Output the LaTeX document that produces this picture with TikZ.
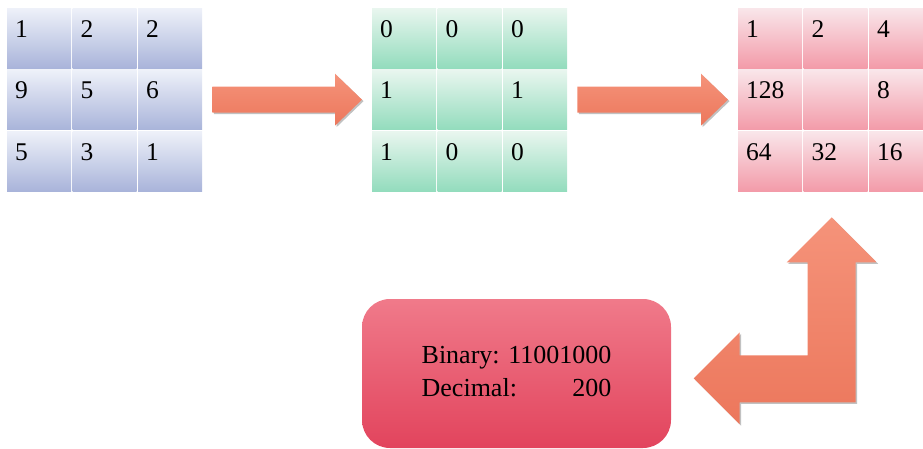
\documentclass[tikz,border=0pt]{standalone}
\usepackage{fontspec}
\setmainfont{Liberation Serif}
\usetikzlibrary{calc,shadows}
\definecolor{bluetop}{HTML}{EEF1F9}
\definecolor{bluebot}{HTML}{A9B4DA}
\definecolor{greentop}{HTML}{E9F6EF}
\definecolor{greenbot}{HTML}{93DCBD}
\definecolor{pinktop}{HTML}{F9E6EA}
\definecolor{pinkbot}{HTML}{F39BA9}
\definecolor{restop}{HTML}{F07A8A}
\definecolor{resmid}{HTML}{F0566F}
\definecolor{resbot}{HTML}{E2445D}
\definecolor{arrtop}{HTML}{F5937A}
\definecolor{arrbot}{HTML}{EC775C}
\tikzset{
  cell/.style={anchor=north west, inner xsep=8pt, inner ysep=0pt, text width=48pt,
    text height=29pt, text depth=31pt, align=left, font=\fontsize{25.5}{30}\selectfont},
  incell/.style={cell, top color=bluetop, bottom color=bluebot},
  bincell/.style={cell, top color=greentop, bottom color=greenbot},
  wtcell/.style={cell, top color=pinktop, bottom color=pinkbot},
  result/.style={rounded corners=28pt, minimum width=309pt, minimum height=149pt,
    top color=restop, middle color=resmid, bottom color=resbot, font=\fontsize{26}{33}\selectfont},
  blockarrow/.style={top color=arrtop, bottom color=arrbot,
    drop shadow={fill=black!70, opacity=.35, shadow xshift=1.5pt, shadow yshift=-1.5pt}}
}
\begin{document}
\begin{tikzpicture}[x=1pt,y=-1pt]
  \clip (0,0) rectangle (923,449);
  \foreach \a/\b/\c [count=\r] in {1/2/2, 9/5/6, 5/3/1} {
    \node[incell] (in\r1) at (7,{8+61.5*(\r-1)}) {\a};
    \node[incell] (in\r2) at (72.5,{8+61.5*(\r-1)}) {\b};
    \node[incell] (in\r3) at (138,{8+61.5*(\r-1)}) {\c};
  }
  \foreach \a/\b/\c [count=\r] in {0/0/0, 1/{}/1, 1/0/0} {
    \node[bincell] (bin\r1) at (372,{8+61.5*(\r-1)}) {\a};
    \node[bincell] (bin\r2) at (437.5,{8+61.5*(\r-1)}) {\b};
    \node[bincell] (bin\r3) at (503,{8+61.5*(\r-1)}) {\c};
  }
  \foreach \a/\b/\c [count=\r] in {1/2/4, 128/{}/8, 64/32/16} {
    \node[wtcell] (wt\r1) at (738,{8+61.5*(\r-1)}) {\a};
    \node[wtcell] (wt\r2) at (803.5,{8+61.5*(\r-1)}) {\b};
    \node[wtcell] (wt\r3) at (869,{8+61.5*(\r-1)}) {\c};
  }
  \node[result] (res) at (516.5,373.5) {\begin{tabular}{@{}l@{}}Binary: 11001000\\Decimal:\hfill 200\end{tabular}};
  \path[blockarrow] ($(in23.east)+(10,-13)$) -- ($(bin21.west)+(-37,-13)$) -- ($(bin21.west)+(-37,-26)$)
    -- ($(bin21.west)+(-10,0)$) -- ($(bin21.west)+(-37,26)$) -- ($(bin21.west)+(-37,13)$) -- ($(in23.east)+(10,13)$) -- cycle;
  \path[blockarrow] ($(bin23.east)+(10,-13)$) -- ($(wt21.west)+(-37,-13)$) -- ($(wt21.west)+(-37,-26)$)
    -- ($(wt21.west)+(-10,0)$) -- ($(wt21.west)+(-37,26)$) -- ($(wt21.west)+(-37,13)$) -- ($(bin23.east)+(10,13)$) -- cycle;
  \path[blockarrow] ($(wt32.south)+(-4,26)$) coordinate (up) -- ++(45,45) -- ++(-21,0) -- ++(0,140) -- ++(-116,0)
    -- ++(0,22) -- ++(-46,-46) -- ++(46,-46) -- ++(0,23) -- ++(68,0) -- ++(0,-93) -- ++(-21,0) -- cycle;
\end{tikzpicture}
\end{document}
